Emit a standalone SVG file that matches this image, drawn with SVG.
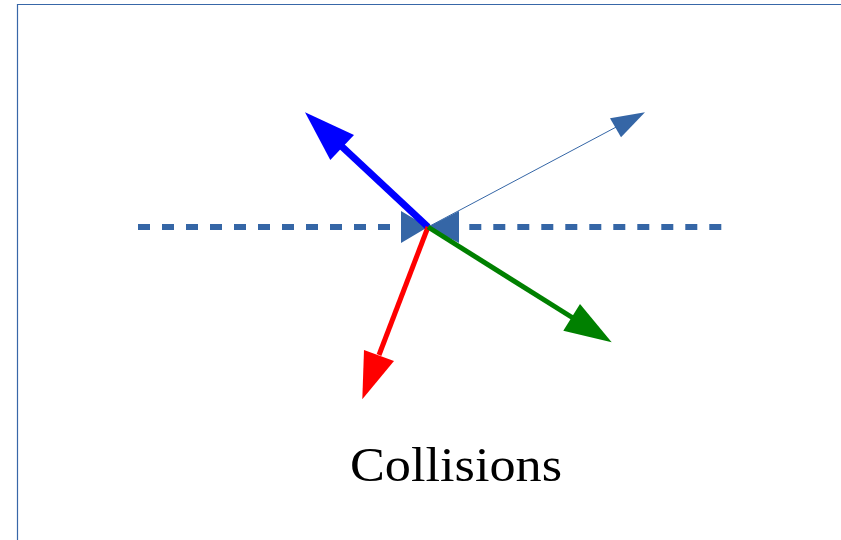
<svg xmlns="http://www.w3.org/2000/svg" width="841" height="540" viewBox="0 0 841 540">
<style>
.frame{fill:none;stroke:#3867a8;stroke-width:1.2}
.dash{stroke:#3566a6;stroke-width:6;stroke-dasharray:12 12;fill:none}
.mirror{fill:#3566a6}
.label{font-family:"Liberation Serif",serif;font-size:48px;fill:#000}
</style>
<rect width="841" height="540" fill="#fff"/>
<path class="frame" d="M17.5 540 V4.5 H841"/>
<g id="mirror">
<line class="dash" x1="138" y1="227" x2="402" y2="227"/>
<line class="dash" x1="469.3" y1="227" x2="722" y2="227"/>
<polygon class="mirror" points="401,211 428,227 401,243"/>
<polygon class="mirror" points="459,211 428,227 459,243"/>
</g>
<g id="connectors">
<g id="thin">
<line x1="428" y1="227" x2="620" y2="125" stroke="#3566a6" stroke-width="1"/>
<polygon points="645,112.3 610,118.3 621,137.3" fill="#3566a6"/>
</g>
<g id="blue">
<line x1="428" y1="227" x2="337" y2="142" stroke="#0000ff" stroke-width="7"/>
<polygon points="305,112.3 354,135 330.3,160" fill="#0000ff"/>
</g>
<g id="red">
<line x1="428" y1="227" x2="379" y2="355" stroke="#ff0000" stroke-width="5"/>
<polygon points="362.3,399.3 364,350 394,361" fill="#ff0000"/>
</g>
<g id="green">
<line x1="428" y1="227" x2="573" y2="318" stroke="#008000" stroke-width="5"/>
<polygon points="611.7,342.3 580,304 563.3,330.7" fill="#008000"/>
</g>
</g>
<text class="label" x="456" y="481" text-anchor="middle" textLength="212" lengthAdjust="spacingAndGlyphs">Collisions</text>
</svg>
